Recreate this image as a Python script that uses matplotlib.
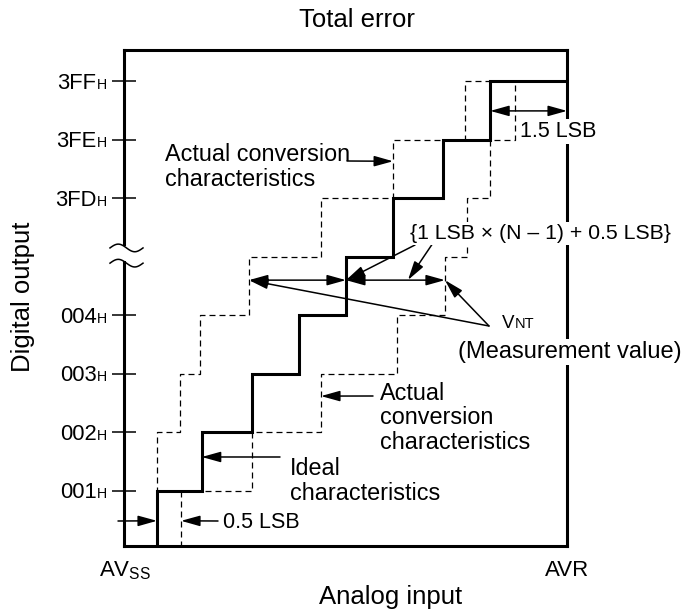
import matplotlib
matplotlib.use('Agg')
import numpy as np
import matplotlib.pyplot as plt
from matplotlib.transforms import Affine2D
from matplotlib.patches import Rectangle

plt.rcParams['font.family'] = ['Liberation Sans', 'DejaVu Sans']
plt.rcParams['mathtext.fontset'] = 'custom'
plt.rcParams['mathtext.rm'] = 'Liberation Sans'

# ---------------- data (x: analog input in LSB from AVss, y: output code step) ----------------
levels = [1, 2, 3, 4, 5, 6, 7, 8]
ideal_x = [0.70, 1.65, 2.72, 3.71, 4.71, 5.71, 6.77, 7.77]          # ideal characteristics
actual_left_x = [0.70, 0.70, 1.19, 1.61, 2.65, 4.18, 5.71, 7.24]    # actual conversion (upper-left)
actual_right_x = [1.21, 2.72, 4.18, 5.79, 6.81, 7.28, 7.77, 8.30]   # actual conversion (lower-right)
x_end = 9.40                                                          # AVR
tick_levels = [1, 2, 3, 4, 6, 7, 8]
tick_codes = ['001', '002', '003', '004', '3FD', '3FE', '3FF']
break_level = 5
meas_level = 4.60

W, H = 683, 612
fig = plt.figure(figsize=(W / 100, H / 100), dpi=100)
ax = fig.add_axes([124 / W, 66 / H, 443 / W, 496 / H])
ax.set_xlim(0, x_end)
ax.set_ylim(0.06, 8.53)
P = Affine2D().scale(1 / W, -1 / H).translate(0, 1) + fig.transFigure  # pixel layout coords

def steps(tr):
    xs = [0] + list(tr) + [x_end]
    ys = [0] + levels + [levels[-1]]
    return xs, ys

dash = (0, (4.8, 3.2))
ax.plot(*steps(actual_left_x), drawstyle='steps-post', color='black', lw=0.9, ls=dash)
ax.plot(*steps(actual_right_x), drawstyle='steps-post', color='black', lw=0.9, ls=dash)
ax.plot(*steps(ideal_x), drawstyle='steps-post', color='black', lw=2.2, solid_joinstyle='miter')

for s in ax.spines.values():
    s.set_linewidth(2.2)
ax.set_xticks([])
ax.set_yticks(tick_levels)
ax.set_yticklabels([])
ax.tick_params(axis='y', direction='inout', length=17, width=1.1)

yt = ax.get_yaxis_transform()
for lv, code in zip(tick_levels, tick_codes):
    ax.annotate(code, xy=(0, lv), xycoords=yt, xytext=(-27.5, -7.5), textcoords='offset pixels',
                ha='right', va='baseline', fontsize=15.8, annotation_clip=False)
    ax.annotate('H', xy=(0, lv), xycoords=yt, xytext=(-17, -7.5), textcoords='offset pixels',
                ha='right', va='baseline', fontsize=10.2, annotation_clip=False)

# axis break
t = np.linspace(0, 1, 80)
bx = -14 / 443 + t * 33 / 443
ax.add_patch(Rectangle((-0.012, break_level - 0.08), 0.024, 0.26, transform=yt,
                       facecolor='white', edgecolor='none', clip_on=False, zorder=4))
for yc in (break_level + 0.15, break_level - 0.11):
    ax.plot(bx, yc + 0.065 * np.sin(2 * np.pi * t), transform=yt, color='black', lw=1.1,
            clip_on=False, zorder=5)

# arrows
def arrow(head, tail, head_c='data', tail_c='data', style='-|>'):
    ax.annotate('', xy=head, xycoords=head_c, xytext=tail, textcoords=tail_c,
                arrowprops=dict(arrowstyle=style + ',head_length=1.15,head_width=0.32',
                                mutation_scale=10, lw=1.1, color='black',
                                shrinkA=0, shrinkB=0),
                annotation_clip=False)

arrow((actual_left_x[6], 6.63), (347, 161), tail_c=P)
arrow((ideal_x[1], 1.58), (280, 457), tail_c=P)
arrow((actual_right_x[2], 2.62), (373, 396), tail_c=P)
arrow((ideal_x[0], 0.49), (118, 521), tail_c=P)
arrow((actual_right_x[0], 0.49), (218, 521), tail_c=P)
arrow((x_end, 7.49), (ideal_x[7], 7.49), style='<|-|>')
arrow((ideal_x[4], meas_level), (actual_left_x[4], meas_level), style='<|-|>')
arrow((actual_right_x[4], meas_level), (ideal_x[4], meas_level), style='<|-|>')
arrow((actual_left_x[4], meas_level), (489, 326), tail_c=P)
arrow((actual_right_x[4], meas_level), (489, 326), tail_c=P)
arrow((ideal_x[4], meas_level), (415, 245), tail_c=P)
arrow((408, 280), (433, 243), head_c=P, tail_c=P)

# texts
fs = 16.8
def lines(x, y0, txts, pitch=24.5, **kw):
    for i, s in enumerate(txts):
        fig.text(x, y0 + i * pitch, s, transform=P, ha='left', va='baseline', fontsize=fs, **kw)

fig.text(357, 20, 'Total error', transform=P, ha='center', va='center', fontsize=18.5)
fig.text(391, 597, 'Analog input', transform=P, ha='center', va='center', fontsize=18.5)
fig.text(23, 297, 'Digital output', transform=P, ha='center', va='center', fontsize=18.5, rotation=90)
fig.text(125, 576, r'AV$_\mathregular{SS}$', transform=P, ha='center', va='baseline', fontsize=16)
fig.text(567, 576, 'AVR', transform=P, ha='center', va='baseline', fontsize=16)

lines(165, 161, ['Actual conversion', 'characteristics'])
lines(290, 475, ['Ideal', 'characteristics'])
lines(380, 400, ['Actual', 'conversion', 'characteristics'])
fig.text(223, 528, '0.5 LSB', transform=P, ha='left', va='baseline', fontsize=15.5)
wb = dict(facecolor='white', edgecolor='none', pad=1.5)
fig.text(520, 137, '1.5 LSB', transform=P, ha='left', va='baseline', fontsize=15.5, bbox=wb)
fig.text(410, 239, '{1 LSB \u00d7 (N \u2013 1) + 0.5 LSB}', transform=P, ha='left', va='baseline',
         fontsize=15.3, bbox=wb)
fig.text(502, 328, 'V', transform=P, ha='left', va='baseline', fontsize=13.5)
fig.text(515, 328, 'NT', transform=P, ha='left', va='baseline', fontsize=10.5)
fig.text(458, 358, '(Measurement value)', transform=P, ha='left', va='baseline', fontsize=17, bbox=wb)

fig.savefig('out.png', dpi=100)
